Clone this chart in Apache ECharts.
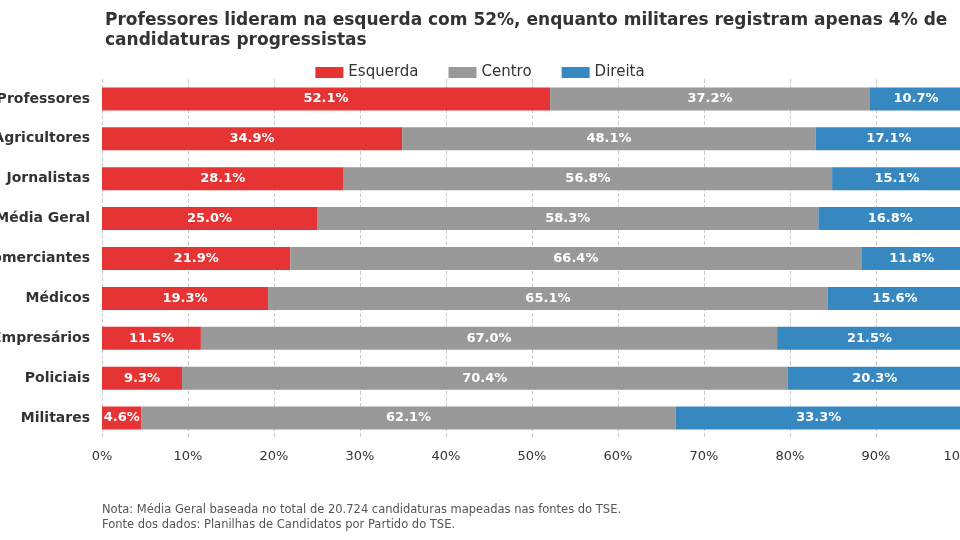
<!DOCTYPE html>
<html><head><meta charset="utf-8">
<script src="https://cdn.jsdelivr.net/npm/echarts@6/dist/echarts.min.js"></script>
<style>html,body{margin:0;padding:0;background:#fff}#c{width:960px;height:540px}</style>
</head><body><div id="c"></div>
<script>
const categories=["Professores","Agricultores","Jornalistas","Média Geral","Comerciantes","Médicos","Empresários","Policiais","Militares"];
const esquerda=[52.1,34.9,28.1,25.0,21.9,19.3,11.5,9.3,4.6];
const centro=[37.2,48.1,56.8,58.3,66.4,65.1,67.0,70.4,62.1];
const direita=[10.7,17.1,15.1,16.8,11.8,15.6,21.5,20.3,33.3];
const chart=echarts.init(document.getElementById('c'));
const lbl={show:true,color:'#fff',fontWeight:'bold',fontSize:13,fontFamily:'DejaVu Sans',formatter:p=>p.value.toFixed(1)+'%'};
function s(name,data,color){return {name,type:'bar',stack:'t',data,barWidth:23,itemStyle:{color},label:lbl};}
chart.setOption({
 animation:false,
 title:{text:'Professores lideram na esquerda com 52%, enquanto militares registram apenas 4% de\ncandidaturas progressistas',left:100,top:6,textStyle:{fontSize:17,fontWeight:'bold',color:'#333',fontFamily:'DejaVu Sans',lineHeight:20}},
 legend:{top:60,left:'center',itemWidth:28,itemHeight:11,itemGap:30,icon:'rect',textStyle:{fontSize:15,color:'#333',fontFamily:'DejaVu Sans'},data:['Esquerda','Centro','Direita']},
 grid:{left:102,right:-2,top:79,bottom:102,containLabel:false,outerBoundsMode:'none'},
 xAxis:{type:'value',min:0,max:100,interval:10,axisLabel:{formatter:'{value}%',fontSize:13,color:'#333',fontFamily:'DejaVu Sans',margin:12},splitLine:{show:true,lineStyle:{type:'dashed',color:'#ccc'}},axisLine:{show:false},axisTick:{show:false}},
 yAxis:{type:'category',inverse:true,data:categories,axisLabel:{fontSize:14,fontWeight:'bold',color:'#333',fontFamily:'DejaVu Sans',margin:12},axisLine:{show:false},axisTick:{show:false}},
 graphic:[{type:'text',left:102,top:503,style:{text:'Nota: Média Geral baseada no total de 20.724 candidaturas mapeadas nas fontes do TSE.\nFonte dos dados: Planilhas de Candidatos por Partido do TSE.',fontSize:11.5,fill:'#555',fontFamily:'DejaVu Sans',lineHeight:15}}],
 series:[s('Esquerda',esquerda,'#e63333'),s('Centro',centro,'#999999'),s('Direita',direita,'#3787c0')]
});
</script></body></html>
